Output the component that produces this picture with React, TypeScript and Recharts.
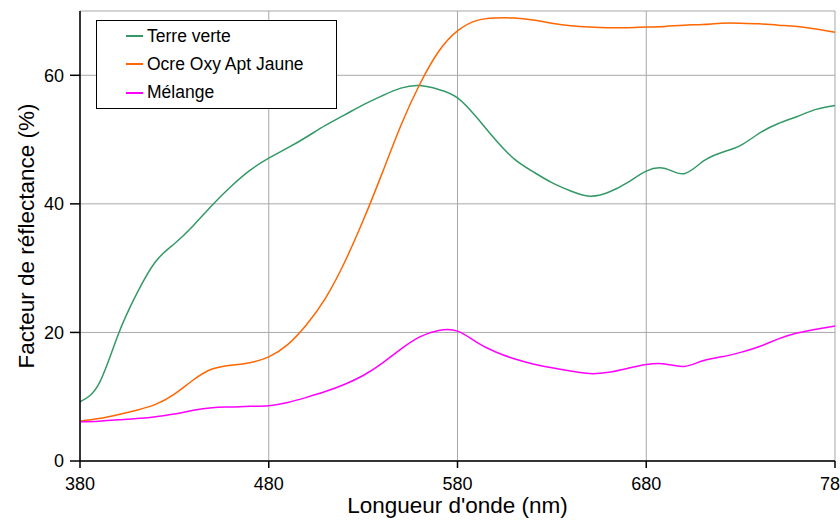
import * as React from 'react';
import {
  LineChart,
  Line,
  XAxis,
  YAxis,
  CartesianGrid,
} from 'recharts';

const WAVELENGTHS = [
  380, 390, 400, 410, 420, 430, 440, 450, 460, 470, 480, 490, 500, 510, 520, 530, 540, 550, 560, 570,
  580, 590, 600, 610, 620, 630, 640, 650, 660, 670, 680, 690, 700, 710, 720, 730, 740, 750, 760, 770, 780,
];

const TERRE_VERTE = [
  9.2, 12.0, 19.5, 26.0, 31.0, 33.8, 36.6, 39.8, 42.7, 45.2, 47.1, 48.7, 50.4, 52.2, 53.8, 55.4, 56.8, 58.0, 58.4, 57.8,
  56.5, 53.5, 50.0, 47.0, 45.0, 43.3, 42.0, 41.2, 41.8, 43.3, 45.1, 45.5, 44.7, 46.6, 48.0, 49.1, 51.0, 52.5, 53.6, 54.7, 55.3,
];

const OCRE = [
  6.2, 6.6, 7.2, 7.9, 8.8, 10.4, 12.6, 14.3, 14.9, 15.3, 16.2, 18.1, 21.2, 25.3, 30.8, 37.4, 44.7, 52.2, 58.6, 63.7,
  66.9, 68.5, 68.9, 68.9, 68.6, 68.1, 67.7, 67.5, 67.4, 67.4, 67.5, 67.6, 67.8, 67.9, 68.1, 68.1, 68.0, 67.8, 67.6, 67.2, 66.7,
];

const MELANGE = [
  6.1, 6.2, 6.4, 6.6, 6.9, 7.3, 7.9, 8.3, 8.4, 8.5, 8.6, 9.1, 9.9, 10.8, 11.9, 13.3, 15.2, 17.4, 19.3, 20.3,
  20.2, 18.5, 17.0, 15.9, 15.1, 14.5, 14.0, 13.6, 13.8, 14.4, 15.0, 15.1, 14.7, 15.6, 16.2, 16.9, 17.8, 19.0, 19.9, 20.5, 21.0,
];

const X_TICKS = [380, 480, 580, 680, 780];
const Y_TICKS = [0, 20, 40, 60];

const SERIES = [
  { key: 'terre', name: 'Terre verte', color: '#339966' },
  { key: 'ocre', name: 'Ocre Oxy Apt Jaune', color: '#ff6600' },
  { key: 'melange', name: 'Mélange', color: '#ff00ff' },
];

const data = WAVELENGTHS.map((nm, i) => ({
  nm,
  terre: TERRE_VERTE[i],
  ocre: OCRE[i],
  melange: MELANGE[i],
}));

const FONT = '"Liberation Sans", Arial, sans-serif';

// legend drawn as an overlay so it doesn't eat into the plot area
function LegendBox() {
  return (
    <div
      style={{
        position: 'absolute',
        left: 96,
        top: 20,
        width: 239,
        height: 87,
        border: '1.5px solid #000',
        background: '#fff',
        fontFamily: FONT,
        fontSize: 17.5,
        color: '#000',
      }}
    >
      {SERIES.map((s, i) => (
        <div
          key={s.key}
          style={{
            position: 'absolute',
            left: 29,
            top: 3 + i * 28.3,
            height: 24,
            display: 'flex',
            alignItems: 'center',
            whiteSpace: 'nowrap',
          }}
        >
          <span style={{ display: 'inline-block', width: 17, height: 2, background: s.color, marginRight: 4 }} />
          <span>{s.name}</span>
        </div>
      ))}
    </div>
  );
}

function YLabel({ viewBox }: any) {
  const cy = viewBox.y + viewBox.height / 2;
  return (
    <text
      x={34}
      y={cy}
      transform={`rotate(-90, 34, ${cy})`}
      textAnchor="middle"
      fill="#000"
      fontSize={22.5}
      fontFamily={FONT}
    >
      Facteur de réflectance (%)
    </text>
  );
}

function XLabel({ viewBox }: any) {
  const cx = viewBox.x + viewBox.width / 2;
  return (
    <text x={cx} y={viewBox.y + 52} textAnchor="middle" fill="#000" fontSize={22.5} fontFamily={FONT}>
      Longueur d'onde (nm)
    </text>
  );
}

export default function App() {
  return (
    <div
      style={{
        position: 'fixed',
        left: 0,
        top: 0,
        width: 840,
        height: 520,
        overflow: 'hidden',
        background: '#fff',
      }}
    >
      <LineChart
        width={880}
        height={520}
        data={data}
        margin={{ top: 11, right: 45, bottom: 0, left: 0 }}
        style={{ fontFamily: FONT }}
      >
        <CartesianGrid stroke="#a8a8a8" strokeWidth={1} />
        <XAxis
          dataKey="nm"
          type="number"
          domain={[380, 780]}
          ticks={X_TICKS}
          height={59}
          tickSize={7}
          tickMargin={9}
          axisLine={{ stroke: '#000', strokeWidth: 1.5 }}
          tickLine={{ stroke: '#000', strokeWidth: 1.5 }}
          tick={{ fill: '#000', fontSize: 18, fontFamily: FONT }}
          label={<XLabel />}
        />
        <YAxis
          type="number"
          domain={[0, 70]}
          ticks={Y_TICKS}
          width={80}
          tickSize={10}
          tickMargin={6}
          axisLine={{ stroke: '#000', strokeWidth: 1.5 }}
          tickLine={{ stroke: '#000', strokeWidth: 1.5 }}
          tick={{ fill: '#000', fontSize: 18, fontFamily: FONT }}
          label={<YLabel />}
        />
        {SERIES.map((s) => (
          <Line
            key={s.key}
            dataKey={s.key}
            name={s.name}
            type="natural"
            stroke={s.color}
            strokeWidth={1.5}
            dot={false}
            activeDot={false}
            isAnimationActive={false}
          />
        ))}
      </LineChart>
      <LegendBox />
    </div>
  );
}
